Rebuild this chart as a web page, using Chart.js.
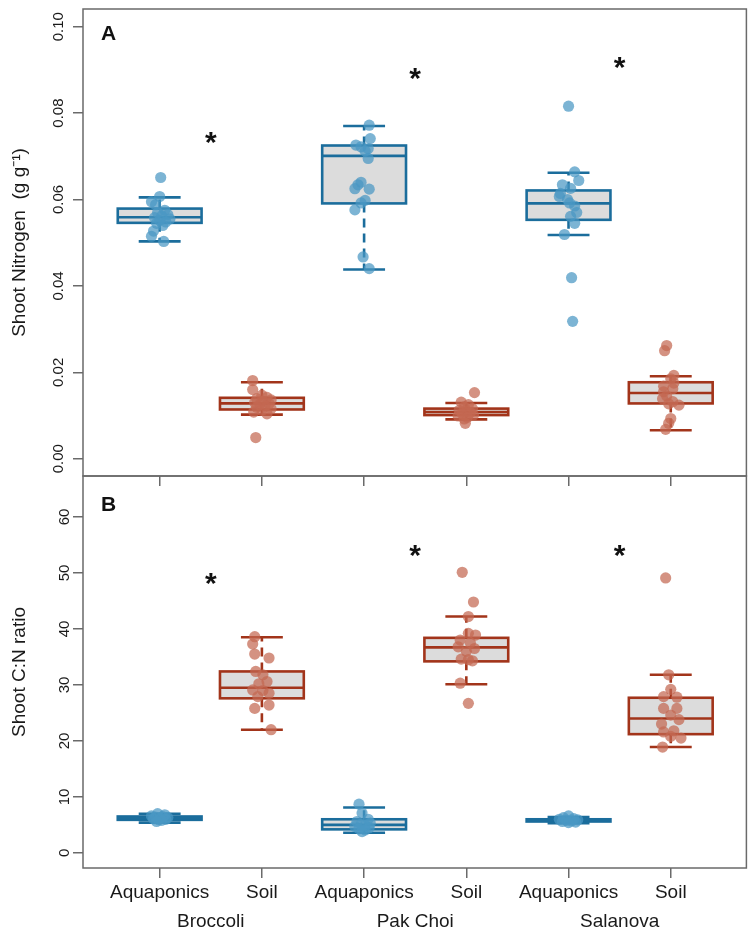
<!DOCTYPE html>
<html>
<head>
<meta charset="utf-8">
<script src="https://cdn.jsdelivr.net/npm/chart.js@4.4.1/dist/chart.umd.min.js"></script>
<style>
body { margin: 0; background: #fff; }
#wrap { position: relative; width: 752px; height: 937px; }
canvas { position: absolute; left: 0; }
</style>
</head>
<body>
<div id="wrap">
  <canvas id="panelA" width="752" height="486" style="top:0px"></canvas>
  <canvas id="panelB" width="752" height="471" style="top:466px"></canvas>
</div>
<script>
// groups, left to right
var categories = ['Aquaponics', 'Soil', 'Aquaponics', 'Soil', 'Aquaponics', 'Soil'];
var crops = ['Broccoli', 'Pak Choi', 'Salanova'];
var cropCentres = [1.5, 3.5, 5.5];

// panel A: shoot nitrogen (g/g)
var yTicksA = [0, 0.02, 0.04, 0.06, 0.08, 0.10];
var lowA  = [0.0503, 0.0102, 0.0438, 0.0091, 0.0518, 0.0066];
var q1A   = [0.0546, 0.0114, 0.0591, 0.0101, 0.0553, 0.0128];
var medA  = [0.0559, 0.0128, 0.0701, 0.0108, 0.0591, 0.0152];
var q3A   = [0.0579, 0.0141, 0.0725, 0.0116, 0.0621, 0.0177];
var highA = [0.0605, 0.0177, 0.0770, 0.0129, 0.0662, 0.0191];
var pointsA = [
  [0.0651, 0.0607, 0.0595, 0.0588, 0.0575, 0.0570, 0.0565, 0.0562, 0.0558, 0.0555, 0.0552, 0.0548, 0.0545, 0.0540, 0.0527, 0.0515, 0.0503],
  [0.0181, 0.0160, 0.0147, 0.0142, 0.0139, 0.0136, 0.0133, 0.0130, 0.0128, 0.0126, 0.0122, 0.0119, 0.0116, 0.0112, 0.0108, 0.0104, 0.0049],
  [0.0772, 0.0741, 0.0718, 0.0726, 0.0722, 0.0712, 0.0695, 0.0640, 0.0634, 0.0625, 0.0624, 0.0598, 0.0592, 0.0576, 0.0467, 0.0440],
  [0.0153, 0.0131, 0.0125, 0.0120, 0.0116, 0.0112, 0.0110, 0.0107, 0.0104, 0.0101, 0.0099, 0.0096, 0.0092, 0.0082],
  [0.0816, 0.0664, 0.0644, 0.0634, 0.0626, 0.0614, 0.0607, 0.0600, 0.0592, 0.0585, 0.0570, 0.0561, 0.0545, 0.0519, 0.0419, 0.0318],
  [0.0262, 0.0250, 0.0193, 0.0185, 0.0175, 0.0168, 0.0162, 0.0155, 0.0145, 0.0139, 0.0132, 0.0127, 0.0124, 0.0093, 0.0082, 0.0068]
];
var jitterA = [
  [0.01, 0, -0.08, -0.04, 0.05, -0.02, 0.08, 0.02, -0.05, 0.10, 0, 0.06, -0.03, 0.03, -0.06, -0.08, 0.04],
  [-0.09, -0.09, 0, 0.05, -0.05, 0.09, 0.01, -0.07, 0.07, -0.02, 0.03, -0.05, 0.09, 0, -0.08, 0.05, -0.06],
  [0.05, 0.06, 0.04, -0.08, -0.03, 0.01, 0.04, -0.03, -0.06, -0.09, 0.05, 0.01, -0.03, -0.09, -0.01, 0.05],
  [0.08, -0.05, 0.02, -0.02, 0.06, -0.07, 0, 0.04, -0.04, 0.07, -0.08, 0.01, -0.02, -0.01],
  [0, 0.06, 0.10, -0.06, 0.02, -0.08, -0.09, -0.01, 0.01, 0.06, 0.08, 0.02, 0.06, -0.04, 0.03, 0.04],
  [-0.04, -0.06, 0.03, 0, 0.03, -0.07, 0.02, -0.07, -0.04, -0.08, 0.02, -0.02, 0.08, 0, -0.02, -0.05]
];
var starsA = [0.0749, 0.0898, 0.0924];

// panel B: shoot C:N ratio
var yTicksB = [0, 10, 20, 30, 40, 50, 60];
var lowB  = [5.4, 22.0, 3.6, 30.1, 5.3, 18.9];
var q1B   = [5.9, 27.6, 4.2, 34.2, 5.6, 21.2];
var medB  = [6.2, 29.5, 5.0, 36.7, 5.8, 24.0];
var q3B   = [6.5, 32.4, 6.0, 38.4, 6.0, 27.7];
var highB = [7.0, 38.5, 8.1, 42.2, 6.4, 31.8];
var pointsB = [
  [7.0, 6.8, 6.6, 6.5, 6.4, 6.3, 6.2, 6.1, 6.0, 5.9, 5.8, 5.6],
  [38.6, 37.3, 35.5, 34.8, 32.4, 31.8, 30.6, 30.2, 29.1, 29.0, 28.5, 27.9, 26.4, 25.8, 22.0],
  [8.7, 7.1, 6.0, 5.6, 5.3, 5.1, 4.9, 4.7, 4.5, 4.3, 4.1, 3.8],
  [50.1, 44.8, 42.2, 39.2, 38.9, 38.0, 37.5, 36.8, 36.5, 36.0, 34.5, 34.3, 34.6, 30.3, 26.7],
  [6.6, 6.3, 6.1, 6.0, 5.9, 5.8, 5.7, 5.6, 5.5, 5.4],
  [49.1, 31.8, 29.2, 27.9, 27.8, 25.8, 25.8, 24.6, 23.8, 23.0, 21.8, 21.6, 20.8, 20.5, 18.9]
];
var jitterB = [
  [-0.02, 0.05, -0.08, 0.03, -0.04, 0.08, 0, -0.06, 0.06, -0.01, 0.02, -0.03],
  [-0.07, -0.09, -0.07, 0.07, -0.06, 0.01, 0.05, -0.03, -0.09, 0.01, 0.07, -0.04, 0.07, -0.07, 0.09],
  [-0.05, -0.02, 0.04, -0.07, 0.06, -0.03, 0.01, -0.09, 0.05, -0.05, 0.01, -0.02],
  [-0.04, 0.07, 0.02, 0.02, 0.09, -0.06, 0.04, -0.08, 0.08, 0, 0.02, 0.06, -0.05, -0.06, 0.02],
  [0, -0.05, 0.05, -0.09, 0.09, -0.02, 0.03, -0.06, 0.07, 0],
  [-0.05, -0.02, 0, -0.07, 0.06, -0.07, 0.06, 0, 0.08, -0.09, 0.03, -0.07, 0, 0.10, -0.08]
];
var starsB = [49.5, 54.4, 54.4];

var lineCols = ['#1b6d9c', '#a2341a'];
var dotCols = ['rgba(74,151,196,0.72)', 'rgba(196,104,82,0.72)'];
var axisCol = '#6a6a6a';

Chart.defaults.font.family = '"Liberation Sans", Arial, sans-serif';
Chart.defaults.color = '#1a1a1a';

// box, whiskers and caps, drawn under the points
var boxPlugin = {
  id: 'boxes',
  beforeDatasetsDraw: function(chart) {
    var b = chart.options.plugins.boxes;
    var xs = chart.scales.x, ys = chart.scales.y, ctx = chart.ctx;
    ctx.save();
    for (var i = 0; i < b.med.length; i++) {
      var c = i + 1;
      var xl = xs.getPixelForValue(c - 0.41), xr = xs.getPixelForValue(c + 0.41);
      var cl = xs.getPixelForValue(c - 0.205), cr = xs.getPixelForValue(c + 0.205);
      var xc = xs.getPixelForValue(c);
      var yLo = ys.getPixelForValue(b.lo[i]), yQ1 = ys.getPixelForValue(b.q1[i]);
      var yMed = ys.getPixelForValue(b.med[i]), yQ3 = ys.getPixelForValue(b.q3[i]);
      var yHi = ys.getPixelForValue(b.hi[i]);
      ctx.strokeStyle = lineCols[i % 2];
      ctx.lineWidth = 2.6;
      ctx.setLineDash([9, 6]);
      ctx.beginPath();
      ctx.moveTo(xc, yQ3); ctx.lineTo(xc, yHi);
      ctx.moveTo(xc, yQ1); ctx.lineTo(xc, yLo);
      ctx.stroke();
      ctx.setLineDash([]);
      ctx.beginPath();
      ctx.moveTo(cl, yHi); ctx.lineTo(cr, yHi);
      ctx.moveTo(cl, yLo); ctx.lineTo(cr, yLo);
      ctx.stroke();
      ctx.fillStyle = '#dcdcdc';
      ctx.fillRect(xl, yQ3, xr - xl, yQ1 - yQ3);
      ctx.strokeRect(xl, yQ3, xr - xl, yQ1 - yQ3);
      ctx.beginPath();
      ctx.moveTo(xl, yMed); ctx.lineTo(xr, yMed);
      ctx.stroke();
    }
    ctx.restore();
  },
  afterDatasetsDraw: function(chart) {
    var b = chart.options.plugins.boxes;
    var xs = chart.scales.x, ys = chart.scales.y, ctx = chart.ctx, a = chart.chartArea;
    ctx.save();
    // frame
    ctx.strokeStyle = axisCol;
    ctx.lineWidth = 1.5;
    ctx.strokeRect(a.left, a.top, a.right - a.left, a.bottom - a.top);
    // significance stars
    ctx.fillStyle = '#111';
    ctx.font = 'bold 30px "Liberation Sans", Arial, sans-serif';
    ctx.textAlign = 'center';
    ctx.textBaseline = 'alphabetic';
    for (var i = 0; i < b.stars.length; i++) {
      ctx.fillText('*', xs.getPixelForValue(cropCentres[i]), ys.getPixelForValue(b.stars[i]) + 17);
    }
    // panel letter
    ctx.font = 'bold 21px "Liberation Sans", Arial, sans-serif';
    ctx.textAlign = 'left';
    ctx.fillText(b.letter, a.left + 18, a.top + b.letterY);
    ctx.restore();
  }
};

function dotSets(points, jitter) {
  return points.map(function(vals, i) {
    return {
      data: vals.map(function(v, k) { return { x: i + 1 + jitter[i][k], y: v }; }),
      backgroundColor: dotCols[i % 2],
      borderWidth: 0,
      pointRadius: 5.6
    };
  });
}

function yAxis(min, max, ticks, fmt, title) {
  return {
    min: min, max: max,
    afterBuildTicks: function(s) { s.ticks = ticks.map(function(v) { return { value: v }; }); },
    ticks: { minRotation: 90, maxRotation: 90, crossAlign: 'center', padding: 0, font: { size: 15 },
             callback: function(v) { return v.toFixed(fmt); } },
    grid: { drawOnChartArea: false, tickLength: 10, color: axisCol, lineWidth: 1.5 },
    border: { display: false },
    title: { display: true, text: title, font: { size: 19 }, padding: { top: 8, bottom: 0 } },
    afterFit: function(s) { s.width = 83; }
  };
}

var xTicks = categories.map(function(c, i) { return i + 1; });

new Chart(document.getElementById('panelA'), {
  type: 'scatter',
  data: { datasets: dotSets(pointsA, jitterA) },
  options: {
    responsive: false, animation: false,
    layout: { padding: { left: 0, right: 3, top: 6, bottom: 0 } },
    plugins: { legend: { display: false }, tooltip: { enabled: false },
               boxes: { lo: lowA, q1: q1A, med: medA, q3: q3A, hi: highA, stars: starsA, letter: 'A', letterY: 31 } },
    scales: {
      x: {
        type: 'linear', min: 0.25, max: 6.74,
        afterBuildTicks: function(s) { s.ticks = xTicks.map(function(v) { return { value: v }; }); },
        ticks: { display: false },
        grid: { drawOnChartArea: false, tickLength: 10, color: axisCol, lineWidth: 1.5 },
        border: { display: false },
        afterFit: function(s) { s.height = 10; }
      },
      y: yAxis(-0.004, 0.1041, yTicksA, 2, 'Shoot Nitrogen  (g g\u207B\u00B9)')
    }
  },
  plugins: [boxPlugin]
});

new Chart(document.getElementById('panelB'), {
  type: 'scatter',
  data: { datasets: dotSets(pointsB, jitterB) },
  options: {
    responsive: false, animation: false,
    layout: { padding: { left: 0, right: 3, top: 10, bottom: 3 } },
    plugins: { legend: { display: false }, tooltip: { enabled: false },
               boxes: { lo: lowB, q1: q1B, med: medB, q3: q3B, hi: highB, stars: starsB, letter: 'B', letterY: 35 } },
    scales: {
      x: {
        type: 'linear', min: 0.25, max: 6.74, weight: 0,
        afterBuildTicks: function(s) { s.ticks = xTicks.map(function(v) { return { value: v }; }); },
        ticks: { font: { size: 19 }, padding: 3, autoSkip: false, maxRotation: 0,
                 callback: function(v) { return categories[Math.round(v) - 1]; } },
        grid: { drawOnChartArea: false, tickLength: 10, color: axisCol, lineWidth: 1.5 },
        border: { display: false },
        afterFit: function(s) { s.height = 36; }
      },
      x2: {
        type: 'linear', position: 'bottom', min: 0.25, max: 6.74, weight: 1,
        afterBuildTicks: function(s) { s.ticks = cropCentres.map(function(v) { return { value: v }; }); },
        ticks: { font: { size: 19 }, padding: 6, autoSkip: false, maxRotation: 0,
                 callback: function(v, i) { return crops[i]; } },
        grid: { display: false, drawTicks: false },
        border: { display: false },
        afterFit: function(s) { s.height = 30; }
      },
      y: yAxis(-2.7, 67.3, yTicksB, 0, 'Shoot C:N ratio')
    }
  },
  plugins: [boxPlugin]
});
</script>
</body>
</html>
